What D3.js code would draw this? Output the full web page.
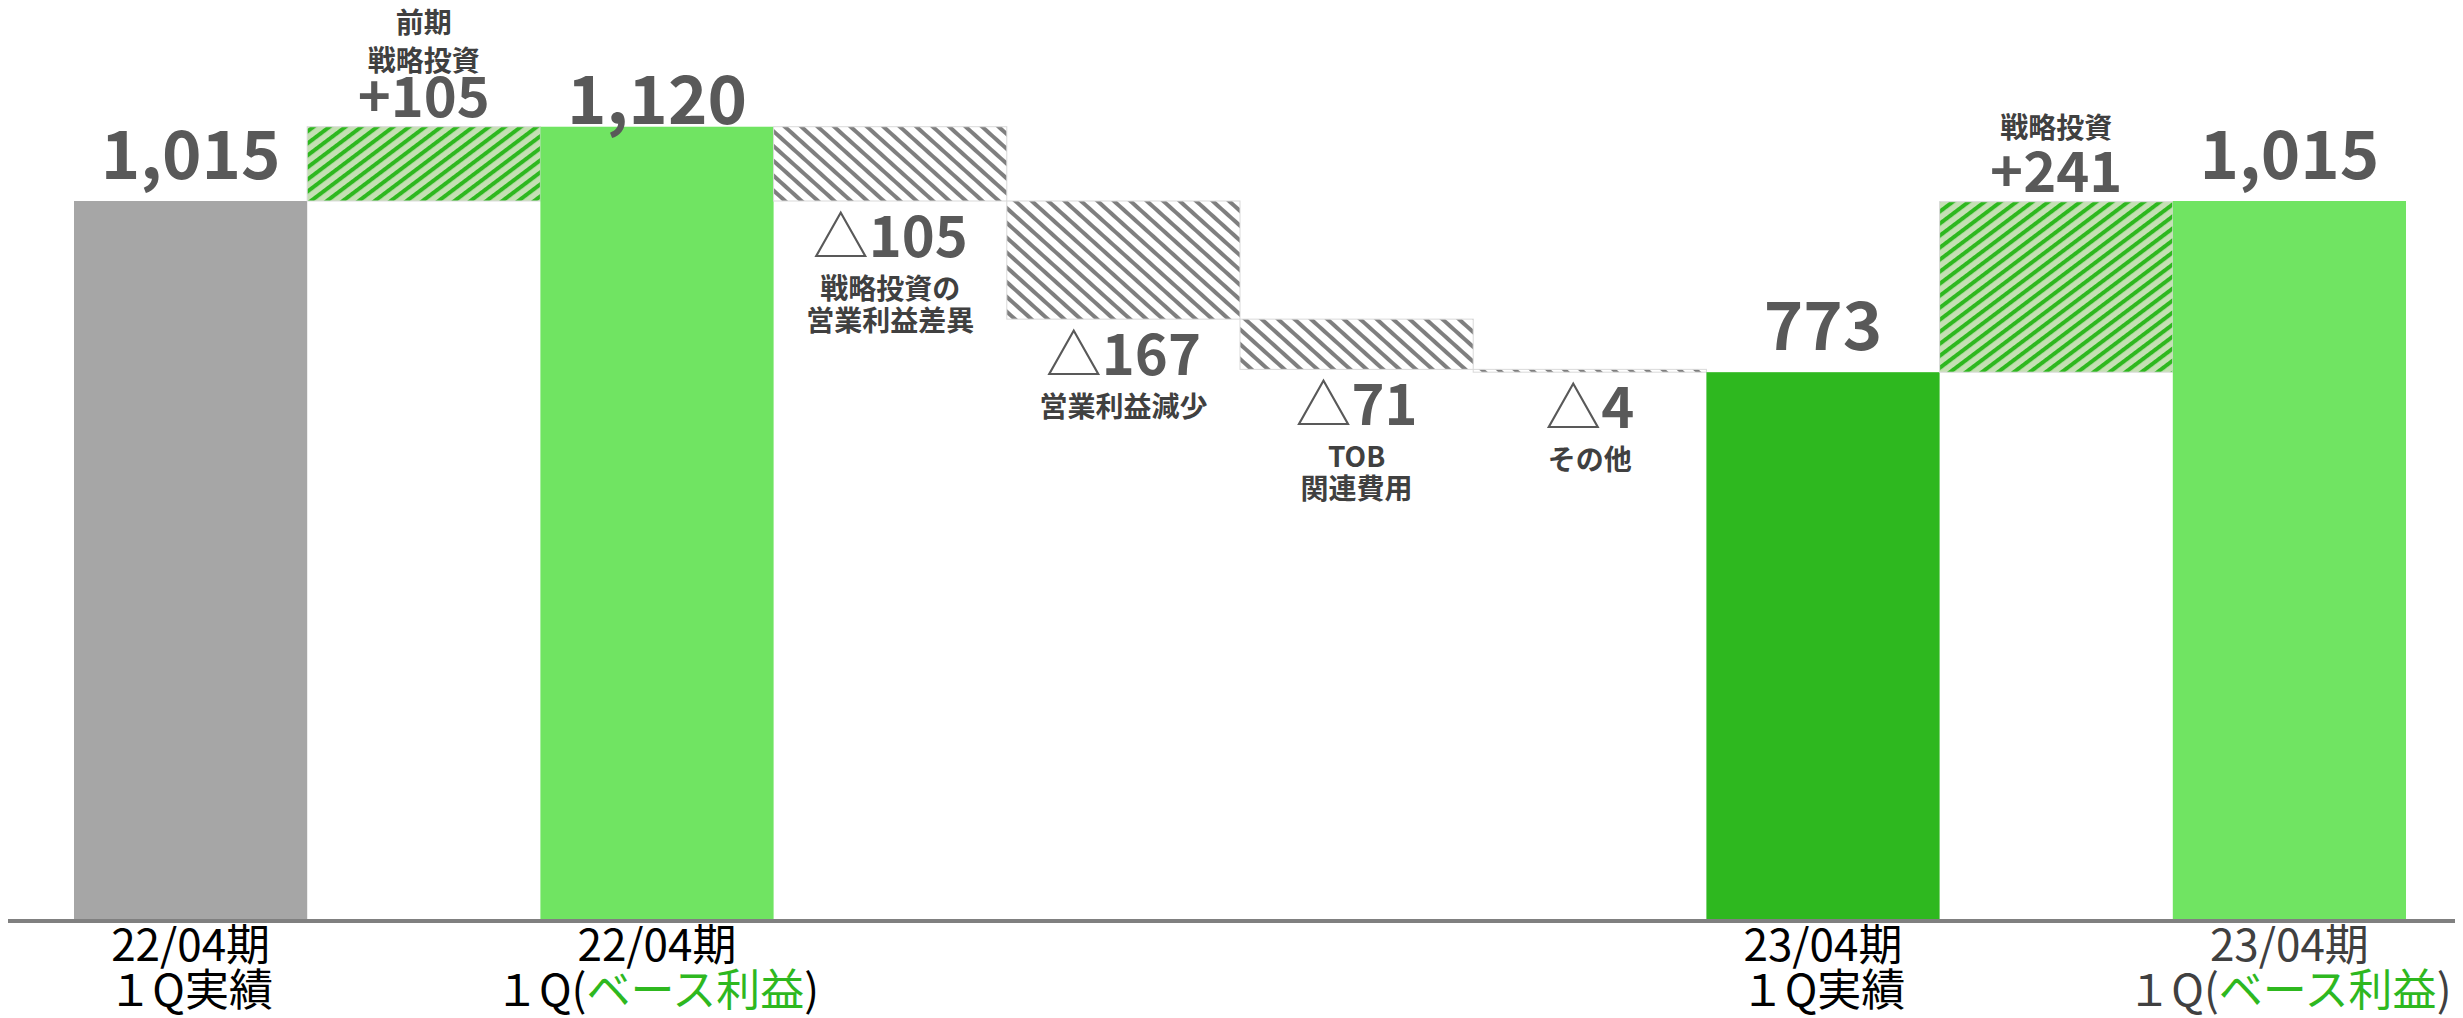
<!DOCTYPE html>
<html>
<head>
<meta charset="utf-8">
<script src="https://cdn.jsdelivr.net/npm/d3@7"></script>
<style>
  html, body { margin: 0; padding: 0; background: #fff; }
  svg text { font-family: "Noto Sans CJK JP", "Noto Sans", sans-serif; }
</style>
</head>
<body>
<div id="container"></div>
<script>
/* CONSTANTS AND GLOBALS */
const width = 2463,
  height = 1018,
  margin = { top: 201, bottom: 99, left: 74, right: 57 };

// DATA
const steps = ["base22", "prevInvest", "base22adj", "investDiff", "opDecline",
               "tobCost", "other", "actual23", "invest", "base23adj"];
const kinds = ["total", "up", "total", "down", "down", "down", "down", "total", "up", "total"];
const values = [1015, 105, 1120, -105, -167, -71, -4, 773, 241, 1015];
const valueLabels = ["1,015", "+105", "1,120", "△105", "△167", "△71", "△4", "773", "+241", "1,015"];
const notes = [[], ["前期", "戦略投資"], [], ["戦略投資の", "営業利益差異"], ["営業利益減少"],
               ["TOB", "関連費用"], ["その他"], [], ["戦略投資"], []];
const catLine1 = ["22/04期", "", "22/04期", "", "", "", "", "23/04期", "", "23/04期"];
const catLine2 = [["１Q実績"], [], ["１Q(", "ベース利益", ")"], [], [], [], [],
                  ["１Q実績"], [], ["１Q(", "ベース利益", ")"]];

// COLORS
const colors = {
  gray: "#a6a6a6",
  light: "#70e462",
  dark: "#2eb81f",
  label: "#595959",
  note: "#404040"
};

// BUILD WATERFALL ROWS
let running = 0;
const rows = steps.map((key, i) => {
  let start, end;
  if (kinds[i] === "total") { start = 0; end = values[i]; }
  else { start = running; end = running + values[i]; }
  running = end;
  return { key, i, kind: kinds[i], start, end, lo: Math.min(start, end), hi: Math.max(start, end) };
});

// SCALES
const baseline = height - margin.bottom;
const x = d3.scaleBand()
  .domain(steps)
  .range([margin.left, width - margin.right])
  .padding(0);

const y = d3.scaleLinear()
  .domain([0, 1015])
  .range([baseline, margin.top]);

// SVG
const svg = d3.select("#container")
  .append("svg")
  .attr("width", width)
  .attr("height", height);

// PATTERNS (stripes: green "/" on pale green, gray "\" on white)
const defs = svg.append("defs");
const upPat = defs.append("pattern")
  .attr("id", "hatchUp")
  .attr("patternUnits", "userSpaceOnUse")
  .attr("width", 9.6).attr("height", 10)
  .attr("patternTransform", "rotate(53)");
upPat.append("rect").attr("width", 9.6).attr("height", 10).attr("fill", "#c5e0b4");
upPat.append("rect").attr("width", 4).attr("height", 10).attr("fill", colors.dark);

const downPat = defs.append("pattern")
  .attr("id", "hatchDown")
  .attr("patternUnits", "userSpaceOnUse")
  .attr("width", 11).attr("height", 10)
  .attr("patternTransform", "rotate(-48)");
downPat.append("rect").attr("width", 11).attr("height", 10).attr("fill", "#ffffff");
downPat.append("rect").attr("width", 4).attr("height", 10).attr("fill", "#7f7f7f");

const fillFor = d => {
  if (d.kind === "up") return "url(#hatchUp)";
  if (d.kind === "down") return "url(#hatchDown)";
  if (d.i === 0) return colors.gray;
  if (d.i === 7) return colors.dark;
  return colors.light;
};

// BARS
svg.selectAll(".bar")
  .data(rows)
  .join("rect")
  .attr("class", "bar")
  .attr("x", d => x(d.key))
  .attr("width", x.bandwidth())
  .attr("y", d => y(d.hi))
  .attr("height", d => Math.max(1, y(d.lo) - y(d.hi)))
  .attr("fill", fillFor)
  .attr("stroke", d => d.kind === "total" ? "none" : "#d9d9d9")
  .attr("stroke-width", 1);

// AXIS LINE
svg.append("line")
  .attr("x1", 8).attr("x2", width - 8)
  .attr("y1", baseline + 2).attr("y2", baseline + 2)
  .attr("stroke", "#808080")
  .attr("stroke-width", 4);

// VALUE LABELS
const cx = d => x(d.key) + x.bandwidth() / 2;
const valueY = d => {
  if (d.kind === "total") return Math.max(y(d.hi) - 22, 124);
  if (d.kind === "up") return y(d.hi) - 10;
  return y(d.lo) + 56;
};

const vLabels = svg.selectAll(".value-label")
  .data(rows)
  .join("text")
  .attr("class", "value-label")
  .attr("x", cx)
  .attr("y", valueY)
  .attr("text-anchor", "middle")
  .attr("fill", colors.label)
  .attr("font-weight", "bold")
  .attr("font-size", d => d.kind === "total" ? 67 : 56);

vLabels.each(function(d) {
  const t = d3.select(this);
  const s = valueLabels[d.i];
  if (s.startsWith("△")) {
    t.append("tspan").attr("font-weight", "normal").text("△");
    t.append("tspan").text(s.slice(1));
  } else {
    t.text(s);
  }
});

// NOTE LABELS
rows.forEach(d => {
  const lines = notes[d.i];
  if (!lines.length) return;
  const vy = valueY(d);
  // keep notes above positive steps inside the top edge
  let firstUp = vy - 54 - (lines.length - 1) * 38;
  if (firstUp < 33) firstUp = 33;
  lines.forEach((line, j) => {
    const ly = d.kind === "up" ? firstUp + j * 38 : vy + 42 + j * 32;
    svg.append("text")
      .attr("x", cx(d))
      .attr("y", ly)
      .attr("text-anchor", "middle")
      .attr("fill", colors.note)
      .attr("font-weight", "bold")
      .attr("font-size", 28)
      .text(line);
  });
});

// CATEGORY LABELS
rows.forEach(d => {
  if (!catLine1[d.i]) return;
  const textColor = d.i === 9 ? "#404040" : "#000000";
  svg.append("text")
    .attr("x", cx(d))
    .attr("y", baseline + 42)
    .attr("text-anchor", "middle")
    .attr("fill", textColor)
    .attr("font-size", 44)
    .text(catLine1[d.i]);

  const t = svg.append("text")
    .attr("x", cx(d))
    .attr("y", baseline + 87)
    .attr("text-anchor", "middle")
    .attr("fill", textColor)
    .attr("font-size", 44);
  catLine2[d.i].forEach((part, k) => {
    t.append("tspan")
      .attr("fill", k === 1 ? colors.dark : textColor)
      .text(part);
  });
});
</script>
</body>
</html>
